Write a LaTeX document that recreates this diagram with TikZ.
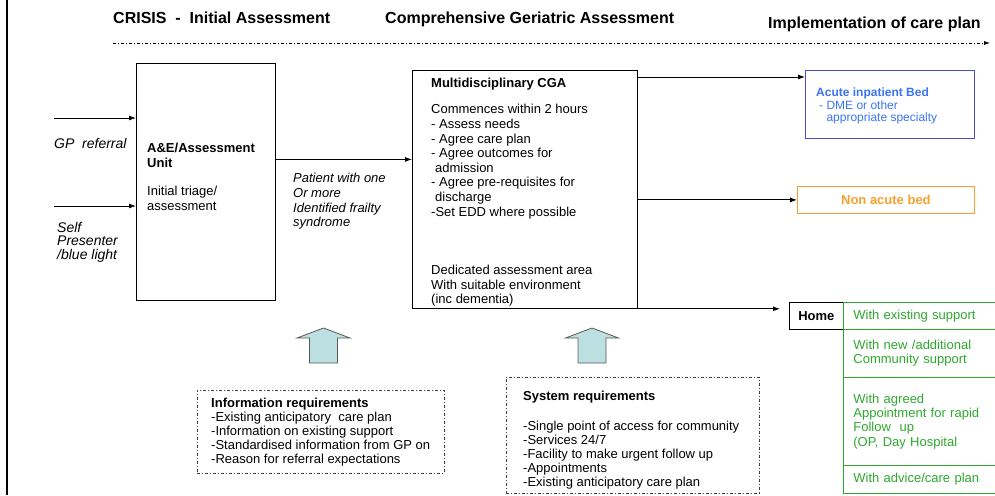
\documentclass[tikz,border=0pt]{standalone}
\usepackage{fontspec}
\setmainfont{Liberation Sans}
\usepackage{tikz}
\usetikzlibrary{arrows.meta,positioning,calc}
\definecolor{bedblue}{HTML}{4A4ADB}
\definecolor{bedtext}{HTML}{3A74F5}
\definecolor{nonacute}{HTML}{F7A030}
\definecolor{homegreen}{HTML}{2EA82E}
\definecolor{reqfill}{HTML}{BCE0E1}
\tikzset{
    flow/.style={-{Latex[length=7pt, width=5pt]}, line width=0.9pt},
    timeline/.style={-{Latex[length=6pt, width=4pt]}, line width=0.6pt, dash pattern=on 3pt off 2pt on 1pt off 2pt},
    box/.style={draw, rectangle, line width=0.8pt, inner sep=0pt, anchor=north west},
    reqbox/.style={draw=black!75, rectangle, line width=0.7pt, dash pattern=on 3pt off 2pt on 1pt off 2pt, inner sep=0pt, anchor=north west},
    option/.style={draw=homegreen, rectangle, line width=0.8pt, anchor=north west, align=left, text=homegreen,
                   text width=137pt, inner xsep=10pt, inner ysep=0pt, minimum width=157pt,
                   font=\fontsize{13}{14.4}\selectfont},
    blockarrow/.style={draw=black!65, fill=reqfill, line width=0.8pt},
    phase/.style={anchor=base west, inner sep=0pt, font=\fontsize{16}{18}\selectfont\bfseries},
    txt/.style={inner sep=0pt, anchor=north west, align=left, font=\fontsize{13}{14.4}\selectfont}
}

\begin{document}
\begin{tikzpicture}[x=1pt, y=-1pt]
\useasboundingbox (0,0) rectangle (995,495);

% rule down the left margin
\draw[line width=2pt] (7,0) -- (7,495);

% phases along the top
\node[phase] (hcrisis) at (113,24) {CRISIS\ \ -\ \ Initial Assessment};
\node[phase] (hcga) at (385,24) {Comprehensive Geriatric Assessment};
\node[phase] (himpl) at (768,29) {Implementation of care plan};
\coordinate (tlstart) at (113,43);
\coordinate (tlend) at (990,43);
\draw[timeline] (tlstart) -- (tlend);

% assessment unit
\node[box, minimum width=139pt, minimum height=237pt] (ae) at (136,63) {};
\node[txt] (aetext) at (147,143.3) {\textbf{A\&E/Assessment}\\\textbf{Unit}\\[14.2pt]Initial triage/\\assessment};
\coordinate (gpin) at (54,118);
\coordinate (selfin) at (54,206);
\draw[flow] (gpin) -- (gpin -| ae.west);
\draw[flow] (selfin) -- (selfin -| ae.west);
\node[txt, font=\fontsize{14}{14.4}\selectfont\itshape] (gp) at (54,138) {GP\ \ referral};
\node[txt, font=\fontsize{14}{13.6}\selectfont\itshape] (self) at (57,222) {Self\\Presenter\\/blue light};

% multidisciplinary CGA
\node[box, minimum width=225pt, minimum height=238pt] (cga) at (412,70) {};
\node[txt, font=\fontsize{13}{14.6}\selectfont] (cgatext) at (431,78.3) {\textbf{Multidisciplinary CGA}\\[11.4pt]
    Commences within 2 hours\\- Assess needs\\- Agree care plan\\- Agree outcomes for\\\hspace*{4pt}admission\\
    - Agree pre-requisites for\\\hspace*{4pt}discharge\\-Set EDD where possible};
\node[txt, font=\fontsize{13}{14.5}\selectfont] (cgafoot) at (431,265.3) {Dedicated assessment area\\With suitable environment\\(inc dementia)};
\draw[flow] ([yshift=22.5pt]ae.east) -- ([yshift=22.5pt]ae.east -| cga.west);
\node[txt, font=\fontsize{13}{14.6}\selectfont\itshape] (patient) at (293,173.3) {Patient with one\\Or more\\Identified frailty\\syndrome};

% outcomes
\node[box, draw=bedblue, minimum width=169pt, minimum height=68pt] (acute) at (805,70) {};
\node[txt, text=bedtext, font=\fontsize{12}{12.5}\selectfont] (acutetext) at (816,87.7) {\textbf{Acute inpatient Bed}\\\hspace*{3pt}- DME or other\\\hspace*{3pt}\hphantom{- }appropriate specialty};
\node[box, draw=nonacute, text=nonacute, minimum width=177pt, minimum height=27pt, font=\fontsize{13}{14.4}\selectfont\bfseries] (nonacute) at (797,186) {Non acute bed};
\node[box, minimum width=54pt, minimum height=27pt, font=\fontsize{13}{14.4}\selectfont\bfseries] (home) at (789,302) {Home};
\node[option, minimum height=27pt] (opt1) at (843,302) {With existing support};
\node[option, minimum height=48pt] (opt2) at (843,329) {With new /additional\\Community support};
\node[option, minimum height=88pt] (opt3) at (843,377) {With agreed\\Appointment for rapid\\Follow\ \ up\\(OP, Day Hospital};
\node[option, minimum height=28pt] (opt4) at (843,465) {With advice/care plan};

\draw[flow] ([yshift=-7pt]cga.north east) -- ([yshift=-7pt]cga.north east -| acute.west);
\draw[flow] (cga.east |- nonacute.west) -- (nonacute.west);
\draw[flow] (cga.south east) -- ([xshift=-9pt]cga.south east -| home.west);

% requirements feeding in from below
\foreach \cx in {323.5,592}
    \draw[blockarrow] (\cx-14,363) -- (\cx-14,338) -- (\cx-26.5,338) -- (\cx,328) -- (\cx+26.5,338) -- (\cx+14,338) -- (\cx+14,363) -- cycle;

\node[reqbox, minimum width=247pt, minimum height=83pt] (info) at (197,390) {};
\node[txt, font=\fontsize{13}{14}\selectfont] (infotext) at (211,398.3) {\textbf{Information requirements}\\-Existing anticipatory\ \ care plan\\
    -Information on existing support\\-Standardised information from GP on\\-Reason for referral expectations};
\node[reqbox, minimum width=253pt, minimum height=116pt] (sys) at (506,377) {};
\node[txt, font=\fontsize{13}{14}\selectfont] (systext) at (523,391.3) {\textbf{System requirements}\\[16pt]-Single point of access for community\\
    -Services 24/7\\-Facility to make urgent follow up\\-Appointments\\-Existing anticipatory care plan};
\end{tikzpicture}
\end{document}
